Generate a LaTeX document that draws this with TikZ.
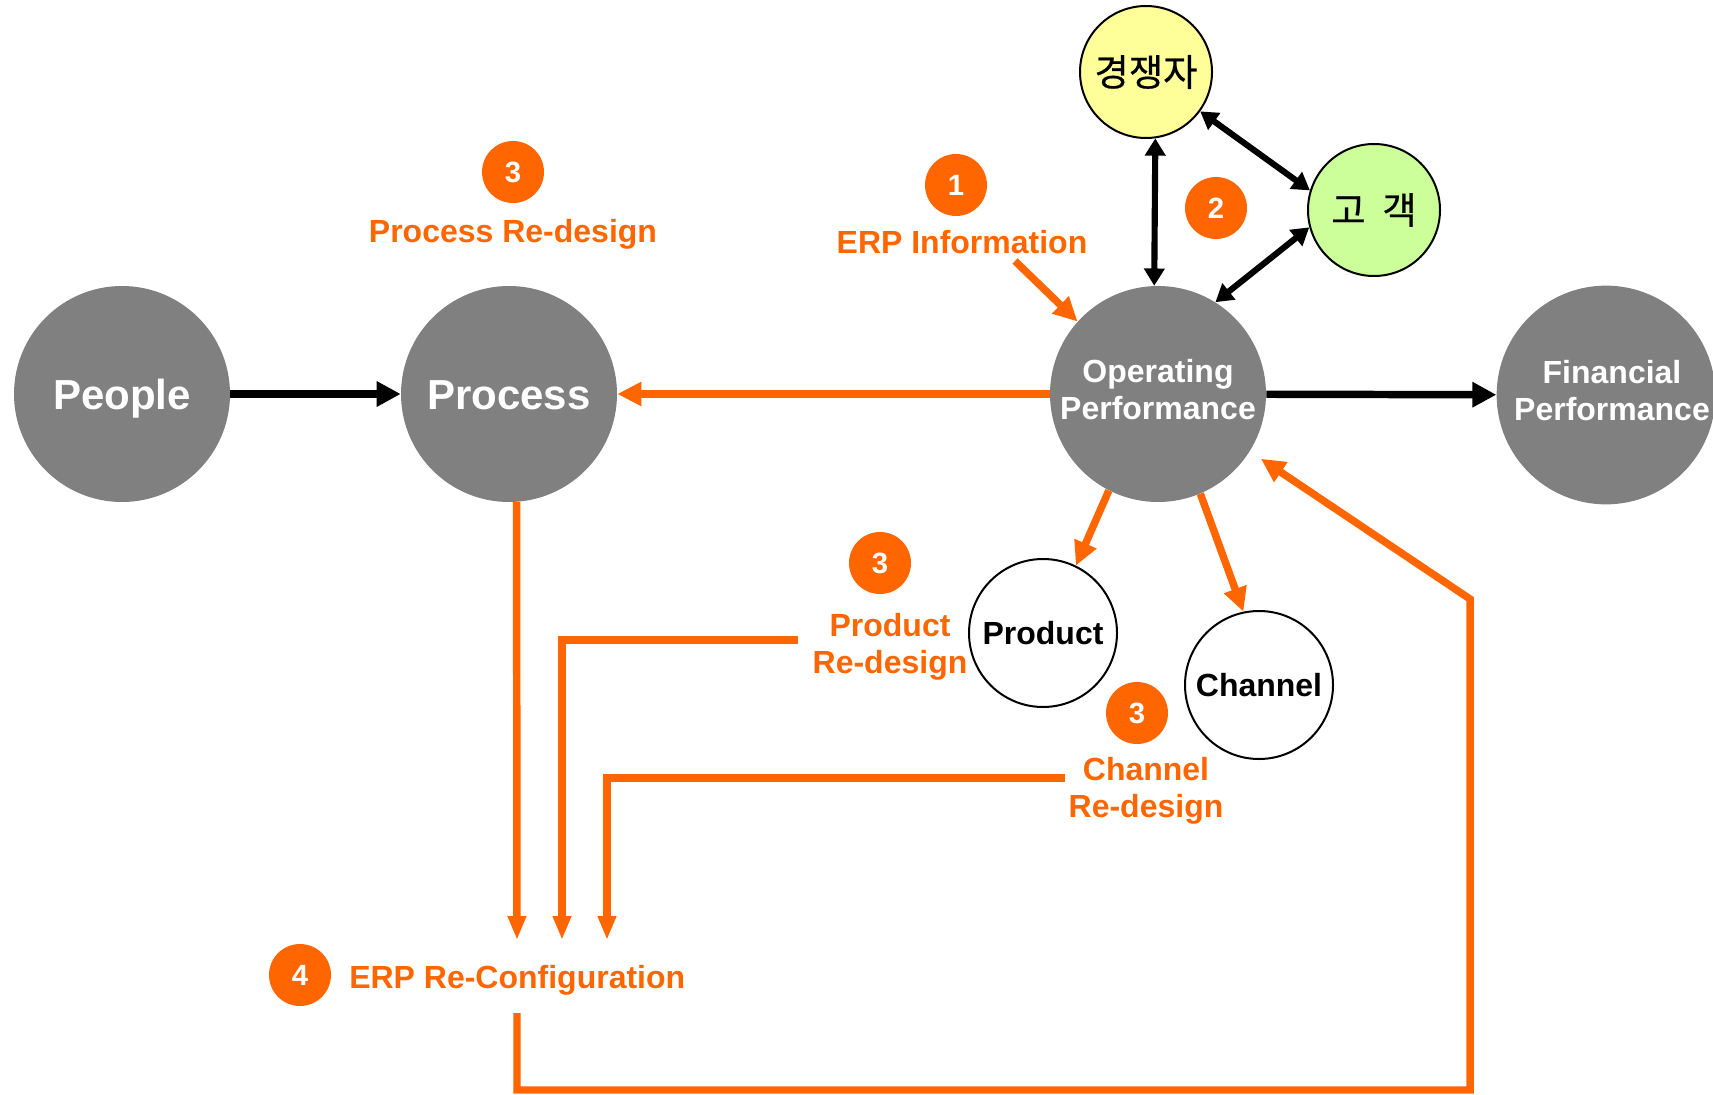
\documentclass[tikz,border=0pt]{standalone}
\usepackage{fontspec}
\setmainfont{Liberation Sans}
\newfontfamily\krfont{Noto Sans CJK KR}[FakeBold=0.6]
\usetikzlibrary{arrows.meta}
\definecolor{orng}{HTML}{FF6600}
\definecolor{gry}{HTML}{808080}
\definecolor{ylw}{HTML}{FFFF99}
\definecolor{grn}{HTML}{CCFF99}
\tikzset{
  bigc/.style={circle, fill=gry, minimum size=162pt, inner sep=0pt, text=white, font=\bfseries\fontsize{31.5}{37}\selectfont},
  bigt/.style={text height=22.7pt, text depth=0pt},
  midc/.style={bigc, font=\bfseries\fontsize{24}{27.75}\selectfont, align=center, text depth=6.5pt},
  kc/.style={circle, draw=black, line width=1.5pt, minimum size=99pt, inner sep=0pt, font=\krfont\fontsize{28}{32}\selectfont},
  wc/.style={circle, draw=black, line width=1.5pt, fill=white, minimum size=111pt, inner sep=0pt, font=\bfseries\fontsize{24}{28}\selectfont},
  badge/.style={circle, fill=orng, minimum size=46.5pt, inner sep=0pt, text=white, font=\bfseries\fontsize{22}{26}\selectfont},
  olabel/.style={text=orng, font=\bfseries\fontsize{24}{27.75}\selectfont, align=center, inner sep=0pt},
  blk/.style={draw=black, line width=5.6pt, -{Triangle[length=18pt,width=18pt]}},
  dbl/.style={draw=black, line width=4.6pt, {Triangle[length=13pt,width=15pt]}-{Triangle[length=13pt,width=15pt]}},
  org/.style={draw=orng, line width=5.6pt, -{Triangle[length=18pt,width=17pt]}},
  orgd/.style={draw=orng, line width=5.6pt, -{Triangle[length=18pt,width=13pt]}},
}
\begin{document}
\begin{tikzpicture}[x=0.75pt,y=-0.75pt]
\useasboundingbox (0,0) rectangle (1713,1095);
% main circles
\node[bigc, bigt] (people) at (122,394) {People};
\node[bigc, bigt] (process) at (509,394) {Process};
\node[midc] (op) at (1158,394) {Operating\\Performance};
\node[midc] (fin) at (1606,395) {\hspace*{9pt}Financial\\\hspace*{9pt}Performance};
\node[kc, fill=ylw] (comp) at (1146,72) {경쟁자};
\node[kc, fill=grn] (cust) at (1374,210) {고\hspace{0.45em}객};
\node[wc] (product) at (1043,633) {Product};
\node[wc] (channel) at (1259,685) {Channel};
% badges
\node[badge] (b3p) at (513,172) {3};
\node[badge] (b1) at (956,185) {1};
\node[badge] (b2) at (1216,208) {2};
\node[badge] (b3d) at (880,563) {3};
\node[badge] (b3c) at (1137,713) {3};
\node[badge] (b4) at (300,975) {4};
% labels
\node[olabel, anchor=base] (lproc) at (513,243) {Process Re-design};
\node[olabel, anchor=base] (lerp) at (962,253) {ERP Information};
\node[olabel] (lprod) at (890,647) {Product\\Re-design};
\node[olabel] (lchan) at (1146,791) {Channel\\Re-design};
\node[olabel, anchor=base west] (lcfg) at (349,988) {ERP Re-Configuration};
% free ends
\coordinate (erptail) at (1015,261);
\coordinate (prodend) at (798,640);
\coordinate (chanend) at (1065,778);
\coordinate (t1) at (517,940);
\coordinate (t2) at (562,940);
\coordinate (t3) at (607,940);
\coordinate (fbstart) at (517,1013);
\coordinate (fbcorner) at (1470,1090);
\coordinate (fbup) at (1470,599);
% connectors
\draw[blk] (people) -- (process);
\draw[org] (op) -- (process);
\draw[blk] (op) -- (fin);
\draw[org] (erptail) -- (op.138);
\draw[dbl] (comp.-82) -- (op.92);
\draw[dbl] (comp.-36) -- (cust.163);
\draw[dbl] (cust.-165) -- (op.58);
\draw[org] (op.-117) -- (product.64);
\draw[org] (op.-67) -- (channel.102);
\draw[orgd] (process.-86) -- (t1);
\draw[orgd] (prodend) -| (t2);
\draw[orgd] (chanend) -| (t3);
\draw[org, shorten >=10pt] (fbstart) |- (fbcorner) -- (fbup) -- (op.-32);
\end{tikzpicture}
\end{document}
